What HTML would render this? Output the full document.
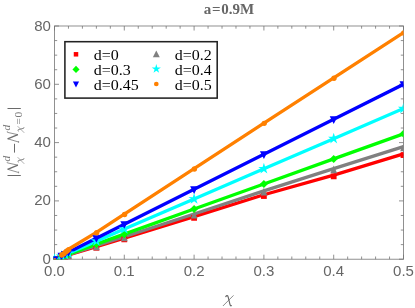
<!DOCTYPE html>
<html><head><meta charset="utf-8"><title>plot</title>
<style>
html,body{margin:0;padding:0;background:#fff;}
body{width:415px;height:308px;overflow:hidden;font-family:"Liberation Sans",sans-serif;}
svg{display:block;will-change:transform;}
.tk{font-family:"Liberation Sans",sans-serif;font-size:15px;fill:#666666;}
.lg{font-family:"Liberation Serif",serif;font-size:15px;fill:#000;}
.tt{font-family:"Liberation Serif",serif;font-size:15px;font-weight:bold;fill:#666666;}
.yl{font-family:"Liberation Serif",serif;font-style:italic;fill:#666666;}
</style></head><body>
<svg width="415" height="308" viewBox="0 0 415 308">
<rect x="0" y="0" width="415" height="308" fill="#ffffff"/>
<defs><clipPath id="cp"><rect x="53.4" y="25.5" width="350.05" height="234.0"/></clipPath></defs>

<g stroke="#757575" stroke-width="0.8" fill="none">
<rect x="54.5" y="26.0" width="349.0" height="233.2"/>
<path d="M54.50,259.2v-4.5M54.50,26.0v4.5M68.46,259.2v-2.7M68.46,26.0v2.7M82.42,259.2v-2.7M82.42,26.0v2.7M96.38,259.2v-2.7M96.38,26.0v2.7M110.34,259.2v-2.7M110.34,26.0v2.7M124.30,259.2v-4.5M124.30,26.0v4.5M138.26,259.2v-2.7M138.26,26.0v2.7M152.22,259.2v-2.7M152.22,26.0v2.7M166.18,259.2v-2.7M166.18,26.0v2.7M180.14,259.2v-2.7M180.14,26.0v2.7M194.10,259.2v-4.5M194.10,26.0v4.5M208.06,259.2v-2.7M208.06,26.0v2.7M222.02,259.2v-2.7M222.02,26.0v2.7M235.98,259.2v-2.7M235.98,26.0v2.7M249.94,259.2v-2.7M249.94,26.0v2.7M263.90,259.2v-4.5M263.90,26.0v4.5M277.86,259.2v-2.7M277.86,26.0v2.7M291.82,259.2v-2.7M291.82,26.0v2.7M305.78,259.2v-2.7M305.78,26.0v2.7M319.74,259.2v-2.7M319.74,26.0v2.7M333.70,259.2v-4.5M333.70,26.0v4.5M347.66,259.2v-2.7M347.66,26.0v2.7M361.62,259.2v-2.7M361.62,26.0v2.7M375.58,259.2v-2.7M375.58,26.0v2.7M389.54,259.2v-2.7M389.54,26.0v2.7M403.50,259.2v-4.5M403.50,26.0v4.5M54.5,259.20h4.5M403.5,259.20h-4.5M54.5,244.62h2.7M403.5,244.62h-2.7M54.5,230.05h2.7M403.5,230.05h-2.7M54.5,215.47h2.7M403.5,215.47h-2.7M54.5,200.90h4.5M403.5,200.90h-4.5M54.5,186.32h2.7M403.5,186.32h-2.7M54.5,171.75h2.7M403.5,171.75h-2.7M54.5,157.17h2.7M403.5,157.17h-2.7M54.5,142.60h4.5M403.5,142.60h-4.5M54.5,128.02h2.7M403.5,128.02h-2.7M54.5,113.45h2.7M403.5,113.45h-2.7M54.5,98.88h2.7M403.5,98.88h-2.7M54.5,84.30h4.5M403.5,84.30h-4.5M54.5,69.72h2.7M403.5,69.72h-2.7M54.5,55.15h2.7M403.5,55.15h-2.7M54.5,40.57h2.7M403.5,40.57h-2.7M54.5,26.00h4.5M403.5,26.00h-4.5"/>
</g>
<g clip-path="url(#cp)">
<polyline points="54.50,259.20 61.48,257.09 64.97,256.04 68.46,254.98 96.38,246.55 124.30,238.12 194.10,216.61 263.90,194.78 333.70,175.13 403.50,153.82" fill="none" stroke="#ff0000" stroke-width="3.3" stroke-linejoin="round"/>
<polyline points="54.50,259.20 61.48,256.95 64.97,255.82 68.46,254.70 96.38,245.70 124.30,236.70 194.10,214.02 263.90,190.90 333.70,168.63 403.50,146.68" fill="none" stroke="#808080" stroke-width="3.3" stroke-linejoin="round"/>
<polyline points="54.50,259.20 61.48,256.69 64.97,255.44 68.46,254.19 96.38,244.16 124.30,234.13 194.10,209.06 263.90,183.99 333.70,158.92 403.50,133.85" fill="none" stroke="#00ff00" stroke-width="3.3" stroke-linejoin="round"/>
<polyline points="54.50,259.20 61.48,256.19 64.97,254.68 68.46,253.17 96.38,241.12 124.30,229.06 194.10,198.92 263.90,168.78 333.70,138.64 403.50,108.49" fill="none" stroke="#00ffff" stroke-width="3.3" stroke-linejoin="round"/>
<polyline points="54.50,259.20 61.48,255.70 64.97,253.95 68.46,252.20 96.38,238.21 124.30,224.22 194.10,189.24 263.90,154.26 333.70,119.28 403.50,84.30" fill="none" stroke="#0000ff" stroke-width="3.3" stroke-linejoin="round"/>
<polyline points="54.50,259.20 61.48,254.67 64.97,251.97 68.46,249.27 96.38,232.40 124.30,214.13 194.10,168.60 263.90,123.01 333.70,77.86 403.50,32.70" fill="none" stroke="#ff8000" stroke-width="3.3" stroke-linejoin="round"/>
<rect x="51.62" y="257.57" width="5.76" height="5.76" fill="#ff0000"/>
<rect x="58.60" y="255.46" width="5.76" height="5.76" fill="#ff0000"/>
<rect x="62.09" y="254.41" width="5.76" height="5.76" fill="#ff0000"/>
<rect x="65.58" y="253.35" width="5.76" height="5.76" fill="#ff0000"/>
<rect x="93.50" y="244.92" width="5.76" height="5.76" fill="#ff0000"/>
<rect x="121.42" y="236.49" width="5.76" height="5.76" fill="#ff0000"/>
<rect x="191.22" y="214.98" width="5.76" height="5.76" fill="#ff0000"/>
<rect x="261.02" y="193.15" width="5.76" height="5.76" fill="#ff0000"/>
<rect x="330.82" y="173.50" width="5.76" height="5.76" fill="#ff0000"/>
<rect x="400.62" y="152.19" width="5.76" height="5.76" fill="#ff0000"/>
<path d="M51.11,263.73L57.89,263.73L54.50,256.05Z" fill="#808080"/>
<path d="M58.09,261.48L64.87,261.48L61.48,253.80Z" fill="#808080"/>
<path d="M61.58,260.35L68.36,260.35L64.97,252.67Z" fill="#808080"/>
<path d="M65.07,259.23L71.85,259.23L68.46,251.55Z" fill="#808080"/>
<path d="M92.99,250.23L99.77,250.23L96.38,242.55Z" fill="#808080"/>
<path d="M120.91,241.22L127.69,241.22L124.30,233.54Z" fill="#808080"/>
<path d="M190.71,218.55L197.49,218.55L194.10,210.87Z" fill="#808080"/>
<path d="M260.51,195.43L267.29,195.43L263.90,187.75Z" fill="#808080"/>
<path d="M330.31,173.16L337.09,173.16L333.70,165.48Z" fill="#808080"/>
<path d="M400.11,151.21L406.89,151.21L403.50,143.53Z" fill="#808080"/>
<path d="M50.50,259.20L54.50,255.20L58.50,259.20L54.50,263.20Z" fill="#00ff00"/>
<path d="M57.48,256.69L61.48,252.69L65.48,256.69L61.48,260.69Z" fill="#00ff00"/>
<path d="M60.97,255.44L64.97,251.44L68.97,255.44L64.97,259.44Z" fill="#00ff00"/>
<path d="M64.46,254.19L68.46,250.19L72.46,254.19L68.46,258.18Z" fill="#00ff00"/>
<path d="M92.38,244.16L96.38,240.16L100.38,244.16L96.38,248.16Z" fill="#00ff00"/>
<path d="M120.30,234.13L124.30,230.13L128.30,234.13L124.30,238.13Z" fill="#00ff00"/>
<path d="M190.10,209.06L194.10,205.06L198.10,209.06L194.10,213.06Z" fill="#00ff00"/>
<path d="M259.90,183.99L263.90,179.99L267.90,183.99L263.90,187.99Z" fill="#00ff00"/>
<path d="M329.70,158.92L333.70,154.93L337.70,158.92L333.70,162.92Z" fill="#00ff00"/>
<path d="M399.50,133.85L403.50,129.86L407.50,133.85L403.50,137.85Z" fill="#00ff00"/>
<polygon points="54.50,253.26 55.80,257.41 60.15,257.36 56.60,259.88 57.99,264.01 54.50,261.41 51.01,264.01 52.40,259.88 48.85,257.36 53.20,257.41" fill="#00ffff"/>
<polygon points="61.48,250.24 62.78,254.40 67.13,254.35 63.58,256.87 64.97,260.99 61.48,258.40 57.99,260.99 59.38,256.87 55.83,254.35 60.18,254.40" fill="#00ffff"/>
<polygon points="64.97,248.73 66.27,252.89 70.62,252.84 67.07,255.36 68.46,259.49 64.97,256.89 61.48,259.49 62.87,255.36 59.32,252.84 63.67,252.89" fill="#00ffff"/>
<polygon points="68.46,247.23 69.76,251.38 74.11,251.33 70.56,253.86 71.95,257.98 68.46,255.38 64.97,257.98 66.36,253.86 62.81,251.33 67.16,251.38" fill="#00ffff"/>
<polygon points="96.38,235.17 97.68,239.33 102.03,239.28 98.48,241.80 99.87,245.92 96.38,243.33 92.89,245.92 94.28,241.80 90.73,239.28 95.08,239.33" fill="#00ffff"/>
<polygon points="124.30,223.11 125.60,227.27 129.95,227.22 126.40,229.74 127.79,233.87 124.30,231.27 120.81,233.87 122.20,229.74 118.65,227.22 123.00,227.27" fill="#00ffff"/>
<polygon points="194.10,192.97 195.40,197.13 199.75,197.08 196.20,199.60 197.59,203.73 194.10,201.13 190.61,203.73 192.00,199.60 188.45,197.08 192.80,197.13" fill="#00ffff"/>
<polygon points="263.90,162.83 265.20,166.99 269.55,166.94 266.00,169.46 267.39,173.59 263.90,170.99 260.41,173.59 261.80,169.46 258.25,166.94 262.60,166.99" fill="#00ffff"/>
<polygon points="333.70,132.69 335.00,136.85 339.35,136.80 335.80,139.32 337.19,143.44 333.70,140.85 330.21,143.44 331.60,139.32 328.05,136.80 332.40,136.85" fill="#00ffff"/>
<polygon points="403.50,102.55 404.80,106.71 409.15,106.66 405.60,109.18 406.99,113.30 403.50,110.71 400.01,113.30 401.40,109.18 397.85,106.66 402.20,106.71" fill="#00ffff"/>
<path d="M50.53,256.17L58.47,256.17L54.50,263.85Z" fill="#0000ff"/>
<path d="M57.51,252.67L65.45,252.67L61.48,260.35Z" fill="#0000ff"/>
<path d="M61.00,250.93L68.94,250.93L64.97,258.61Z" fill="#0000ff"/>
<path d="M64.49,249.18L72.43,249.18L68.46,256.86Z" fill="#0000ff"/>
<path d="M92.41,235.18L100.35,235.18L96.38,242.86Z" fill="#0000ff"/>
<path d="M120.33,221.19L128.27,221.19L124.30,228.87Z" fill="#0000ff"/>
<path d="M190.13,186.21L198.07,186.21L194.10,193.89Z" fill="#0000ff"/>
<path d="M259.93,151.23L267.87,151.23L263.90,158.91Z" fill="#0000ff"/>
<path d="M329.73,116.25L337.67,116.25L333.70,123.93Z" fill="#0000ff"/>
<path d="M399.53,81.27L407.47,81.27L403.50,88.95Z" fill="#0000ff"/>
<circle cx="54.80" cy="259.55" r="1.67" fill="#ff8000"/>
<circle cx="61.78" cy="255.02" r="2.69" fill="#ff8000"/>
<circle cx="63.52" cy="253.89" r="2.69" fill="#ff8000"/>
<circle cx="65.27" cy="252.32" r="2.69" fill="#ff8000"/>
<circle cx="67.02" cy="251.04" r="2.69" fill="#ff8000"/>
<circle cx="68.76" cy="249.62" r="2.69" fill="#ff8000"/>
<circle cx="96.68" cy="232.75" r="2.69" fill="#ff8000"/>
<circle cx="124.60" cy="214.48" r="2.69" fill="#ff8000"/>
<circle cx="194.40" cy="168.95" r="2.69" fill="#ff8000"/>
<circle cx="264.20" cy="123.36" r="2.69" fill="#ff8000"/>
<circle cx="334.00" cy="78.21" r="2.69" fill="#ff8000"/>
<circle cx="403.80" cy="33.05" r="2.69" fill="#ff8000"/>
</g>
<text class="tk" x="54.50" y="276.1" text-anchor="middle">0.0</text>
<text class="tk" x="124.30" y="276.1" text-anchor="middle">0.1</text>
<text class="tk" x="194.10" y="276.1" text-anchor="middle">0.2</text>
<text class="tk" x="263.90" y="276.1" text-anchor="middle">0.3</text>
<text class="tk" x="333.70" y="276.1" text-anchor="middle">0.4</text>
<text class="tk" x="403.50" y="276.1" text-anchor="middle">0.5</text>
<text class="tk" x="50.9" y="263.70" text-anchor="end">0</text>
<text class="tk" x="50.9" y="205.40" text-anchor="end">20</text>
<text class="tk" x="50.9" y="147.10" text-anchor="end">40</text>
<text class="tk" x="50.9" y="88.80" text-anchor="end">60</text>
<text class="tk" x="50.9" y="30.50" text-anchor="end">80</text>
<text class="tt" x="229" y="13.9" text-anchor="middle">a<tspan dx="0.7">=</tspan><tspan dx="0.7">0.9M</tspan></text>
<rect x="64.9" y="41.7" width="152.3" height="56.4" fill="#ffffff" stroke="#222222" stroke-width="1.55"/>
<rect x="73.75" y="52.05" width="4.50" height="4.50" fill="#ff0000"/>
<text class="lg" transform="translate(93.7,59.8) scale(1.067,1)" x="0" y="0">d=0</text>
<path d="M72.45,69.40L76.00,65.85L79.55,69.40L76.00,72.95Z" fill="#00ff00"/>
<text class="lg" transform="translate(93.7,75.0) scale(1.067,1)" x="0" y="0">d=0.3</text>
<path d="M72.90,81.40L79.10,81.40L76.00,87.40Z" fill="#0000ff"/>
<text class="lg" transform="translate(93.7,90.4) scale(1.067,1)" x="0" y="0">d=0.45</text>
<path d="M152.83,57.21L159.77,57.21L156.30,50.49Z" fill="#808080"/>
<text class="lg" transform="translate(174.7,59.8) scale(1.067,1)" x="0" y="0">d=0.2</text>
<polygon points="156.30,64.08 157.35,67.45 160.88,67.41 158.00,69.45 159.13,72.80 156.30,70.69 153.47,72.80 154.60,69.45 151.72,67.41 155.25,67.45" fill="#00ffff"/>
<text class="lg" transform="translate(174.7,75.0) scale(1.067,1)" x="0" y="0">d=0.4</text>
<circle cx="156.30" cy="84.00" r="2.35" fill="#ff8000"/>
<text class="lg" transform="translate(174.7,90.4) scale(1.067,1)" x="0" y="0">d=0.5</text>
<path d="M222.90,306.00L233.50,295.40" stroke="#666666" stroke-width="0.75" fill="none"/><path d="M225.76,296.57C226.72,295.09 227.78,295.40 228.20,297.10L229.90,304.10C230.21,305.58 230.74,306.22 231.38,305.58" stroke="#666666" stroke-width="1.15" fill="none" stroke-linecap="round"/>
<g transform="translate(18.2,176) rotate(-90)">
<path d="M0.5,-10.7V2.6M67.5,-10.7V2.6" stroke="#6a6a6a" stroke-width="1" fill="none"/>
<path d="M23.4,-3.7H32.2" stroke="#6a6a6a" stroke-width="1" fill="none"/>
<path d="M3.50,0.4L6.70,-10.5" stroke="#6e6e6e" stroke-width="0.75" fill="none"/><path d="M2.70,0.4H4.50" stroke="#6e6e6e" stroke-width="0.7" fill="none"/><path d="M6.60,-10.6L10.80,-0.3" stroke="#6e6e6e" stroke-width="1.35" fill="none"/><path d="M10.80,-0.2L13.10,-10.6C13.30,-11.3 13.90,-11.2 14.30,-10.6" stroke="#6e6e6e" stroke-width="0.75" fill="none"/>
<path d="M34.00,0.4L37.20,-10.5" stroke="#6e6e6e" stroke-width="0.75" fill="none"/><path d="M33.20,0.4H35.00" stroke="#6e6e6e" stroke-width="0.7" fill="none"/><path d="M37.10,-10.6L41.30,-0.3" stroke="#6e6e6e" stroke-width="1.35" fill="none"/><path d="M41.30,-0.2L43.60,-10.6C43.80,-11.3 44.40,-11.2 44.80,-10.6" stroke="#6e6e6e" stroke-width="0.75" fill="none"/>
<text class="yl" x="14.6" y="-8.0" font-size="11.4" style="fill:#777777">d</text>
<text class="yl" x="45.4" y="-8.0" font-size="11.4" style="fill:#777777">d</text>
<path d="M12.20,6.04L18.80,-0.56" stroke="#777777" stroke-width="0.6" fill="none"/><path d="M13.98,0.17C14.58,-0.75 15.24,-0.56 15.50,0.50L16.56,4.86C16.75,5.78 17.08,6.18 17.48,5.78" stroke="#777777" stroke-width="0.9" fill="none" stroke-linecap="round"/>
<path d="M43.20,6.04L49.80,-0.56" stroke="#777777" stroke-width="0.6" fill="none"/><path d="M44.98,0.17C45.58,-0.75 46.24,-0.56 46.50,0.50L47.56,4.86C47.75,5.78 48.08,6.18 48.48,5.78" stroke="#777777" stroke-width="0.9" fill="none" stroke-linecap="round"/>
<text x="51.6" y="4.2" font-size="11.4" font-family="Liberation Serif" style="fill:#777777">=</text>
<text x="58.5" y="4.2" font-size="11.4" font-family="Liberation Serif" style="fill:#777777">0</text>
</g>
</svg></body></html>
